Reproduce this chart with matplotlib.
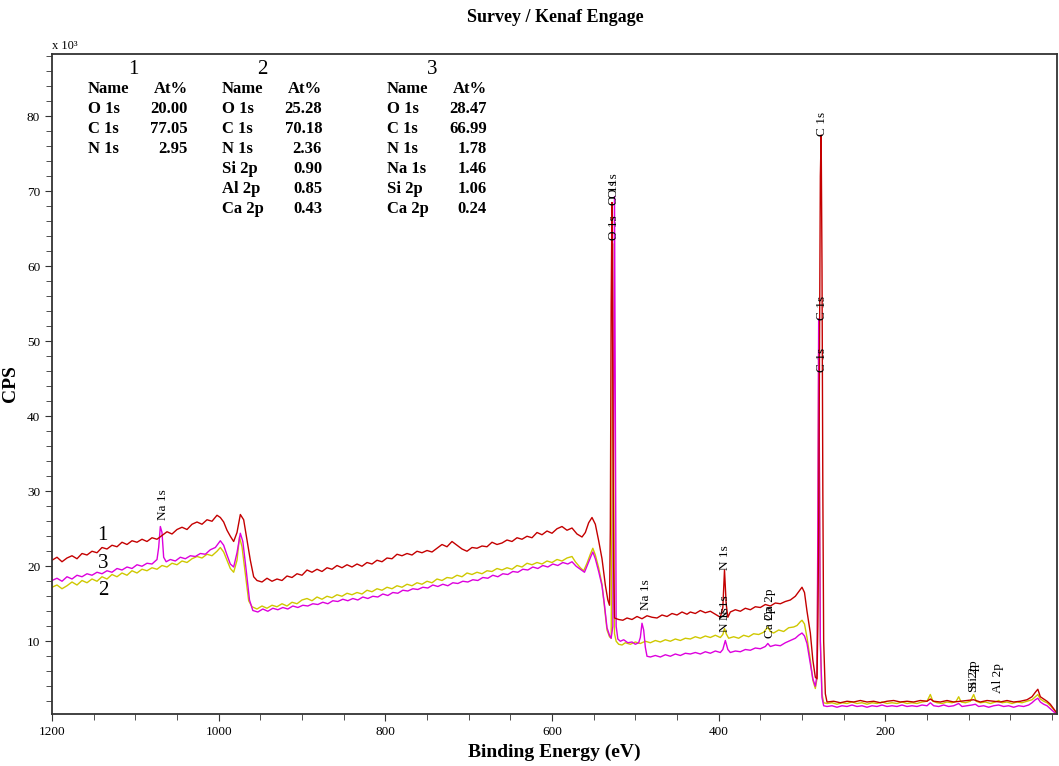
"""
XPS survey spectra of kenaf (Engage), three runs on one figure.

Counts are kept in thousands, the axis carries the x 10^3 note.
"""

import matplotlib
matplotlib.use("Agg")
import matplotlib.pyplot as plt
from matplotlib.ticker import MultipleLocator


# ============================================================
# Data (binding energy in eV, counts in 10^3 CPS)
# ============================================================

be_1 = [1200, 1194, 1188, 1182, 1176, 1170, 1164, 1158, 1152, 1146, 1140, 1134, 1128, 1122,
        1116, 1110, 1104, 1098, 1092, 1086, 1080, 1074, 1068, 1062, 1056, 1050, 1044, 1038,
        1032, 1026, 1020, 1014, 1008, 1002, 998, 994, 990, 986, 982, 978, 974, 970, 966, 962,
        958, 954, 948, 942, 936, 930, 924, 918, 912, 906, 900, 894, 888, 882, 876, 870, 864,
        858, 852, 846, 840, 834, 828, 822, 816, 810, 804, 798, 792, 786, 780, 774, 768, 762,
        756, 750, 744, 738, 732, 726, 720, 714, 708, 702, 696, 690, 684, 678, 672, 666, 660,
        654, 648, 642, 636, 630, 624, 618, 612, 606, 600, 594, 588, 582, 576, 570, 564, 560,
        556, 552, 548, 544, 540, 536, 533, 531, 530, 529, 528, 527, 526, 525, 520, 515, 510,
        504, 498, 492, 486, 480, 474, 468, 462, 456, 450, 444, 438, 434, 428, 422, 416, 410,
        404, 398, 395, 393, 391, 389, 386, 380, 374, 368, 362, 356, 350, 344, 338, 332, 326,
        320, 314, 308, 304, 300, 297, 294, 290, 287, 284, 282, 281, 280, 279, 278, 277, 276,
        275, 274, 272, 270, 262, 254, 246, 238, 230, 222, 214, 206, 198, 190, 182, 174, 166,
        158, 150, 146, 142, 134, 126, 118, 110, 102, 94, 86, 78, 70, 62, 54, 46, 38, 30, 24,
        20, 17, 14, 10, 6, 2, -2, -6]
cps_1 = [20.8, 21.2, 20.6, 21.1, 21.4, 21.0, 21.7, 21.5, 22.0, 21.8, 22.5, 22.3, 22.8, 22.6,
         23.2, 22.9, 23.4, 23.2, 23.6, 23.3, 23.8, 23.6, 24.1, 24.6, 24.3, 24.9, 25.2, 24.9,
         25.6, 25.9, 25.6, 26.2, 26.0, 26.8, 26.5, 25.9, 24.8, 24.0, 23.3, 24.5, 26.9, 26.2,
         23.5, 20.8, 18.6, 18.1, 17.9, 18.4, 18.0, 18.3, 18.1, 18.7, 18.5, 19.0, 18.8, 19.5,
         19.2, 19.6, 19.3, 19.8, 19.6, 20.1, 19.8, 20.2, 19.9, 20.3, 20.0, 20.5, 20.3, 20.8,
         20.6, 21.1, 21.0, 21.6, 21.4, 21.7, 21.5, 22.0, 21.8, 22.1, 21.9, 22.4, 22.9, 22.6,
         23.3, 22.8, 22.3, 22.0, 22.5, 22.4, 22.7, 22.6, 23.2, 22.9, 23.1, 23.5, 23.3, 23.8,
         23.6, 24.0, 23.8, 24.5, 24.2, 24.7, 24.4, 25.0, 25.3, 24.8, 25.1, 24.3, 23.9, 24.5,
         25.8, 26.5, 25.6, 23.4, 21.0, 17.5, 15.5, 14.8, 25.0, 55.0, 68.5, 45.0, 20.0, 13.1,
         12.9, 12.8, 13.1, 12.9, 13.3, 13.0, 13.4, 13.2, 13.1, 13.5, 13.3, 13.7, 13.5, 13.9,
         13.6, 13.9, 13.7, 14.1, 13.8, 14.0, 13.6, 13.2, 14.5, 19.5, 15.0, 13.2, 13.9, 14.2,
         14.0, 14.4, 14.2, 14.6, 14.5, 14.9, 14.7, 15.1, 15.0, 15.3, 15.5, 16.0, 16.6, 17.2,
         16.5, 14.0, 11.1, 7.5, 5.2, 5.0, 12.0, 25.0, 50.0, 72.0, 77.5, 60.0, 30.0, 10.0, 3.0,
         1.9, 2.0, 1.8, 2.0, 1.9, 2.1, 1.9, 2.0, 1.8, 2.0, 2.1, 1.9, 2.0, 1.9, 2.1, 2.0, 2.3,
         2.0, 1.9, 2.1, 1.9, 2.0, 2.1, 2.2, 1.9, 2.1, 2.0, 1.9, 2.1, 1.9, 2.0, 2.2, 2.6, 3.2,
         3.6, 2.6, 2.3, 2.0, 1.6, 1.0, 0.4]

be_2 = [1200, 1194, 1188, 1182, 1176, 1170, 1164, 1158, 1152, 1146, 1140, 1134, 1128, 1122,
        1116, 1110, 1104, 1098, 1092, 1086, 1080, 1074, 1068, 1062, 1056, 1050, 1044, 1038,
        1032, 1026, 1020, 1014, 1008, 1002, 998, 994, 990, 986, 982, 978, 975, 972, 968, 964,
        960, 954, 948, 942, 936, 930, 924, 918, 912, 906, 900, 894, 888, 882, 876, 870, 864,
        858, 852, 846, 840, 834, 828, 822, 816, 810, 804, 798, 792, 786, 780, 774, 768, 762,
        756, 750, 744, 738, 732, 726, 720, 714, 708, 702, 696, 690, 684, 678, 672, 666, 660,
        654, 648, 642, 636, 630, 624, 618, 612, 606, 600, 594, 588, 582, 576, 572, 566, 562,
        558, 554, 551, 548, 544, 540, 537, 534, 531, 529, 528, 527, 526, 525, 523, 520, 516,
        512, 506, 500, 494, 488, 482, 476, 470, 464, 458, 452, 446, 440, 434, 428, 422, 416,
        410, 404, 398, 395, 393, 391, 388, 382, 376, 370, 364, 358, 352, 346, 341, 338, 334,
        328, 322, 316, 310, 306, 302, 300, 297, 294, 290, 287, 284, 282, 281, 280, 279, 278,
        276, 274, 270, 264, 258, 252, 246, 240, 234, 228, 222, 216, 210, 204, 198, 192, 186,
        180, 174, 168, 162, 156, 150, 146, 143, 138, 132, 126, 120, 115, 112, 109, 104, 98,
        94, 91, 86, 80, 74, 68, 64, 60, 54, 48, 42, 36, 30, 24, 20, 17, 14, 10, 6, 2, -2, -6]
cps_2 = [17.2, 17.5, 17.0, 17.4, 17.9, 17.5, 18.1, 17.8, 18.3, 18.0, 18.6, 18.3, 18.9, 18.6,
         19.1, 18.8, 19.4, 19.1, 19.6, 19.4, 19.8, 19.6, 20.1, 19.9, 20.4, 20.2, 20.7, 20.5,
         21.0, 21.3, 21.1, 21.6, 21.4, 22.0, 22.5, 21.9, 20.8, 19.7, 19.2, 20.8, 23.9, 22.6,
         19.0, 15.4, 14.6, 14.3, 14.7, 14.4, 14.8, 14.6, 15.0, 14.7, 15.2, 15.0, 15.5, 15.7,
         15.4, 15.9, 15.6, 16.0, 15.8, 16.2, 16.0, 16.4, 16.2, 16.5, 16.3, 16.8, 16.6, 17.0,
         16.8, 17.2, 17.0, 17.4, 17.2, 17.6, 17.4, 17.8, 17.6, 18.0, 17.8, 18.3, 18.1, 18.5,
         18.4, 18.8, 18.6, 19.1, 18.9, 19.2, 19.0, 19.4, 19.3, 19.7, 19.5, 19.8, 19.6, 20.1,
         19.9, 20.4, 20.2, 20.5, 20.3, 20.7, 20.5, 20.9, 20.7, 21.1, 21.3, 20.6, 19.8, 19.4,
         20.4, 21.6, 22.4, 21.5, 19.8, 17.6, 14.5, 11.5, 10.6, 10.4, 30.0, 63.0, 35.0, 11.0,
         10.0, 9.6, 9.5, 9.8, 9.6, 9.9, 9.7, 10.0, 9.8, 10.1, 9.9, 10.2, 10.0, 10.3, 10.1,
         10.4, 10.3, 10.6, 10.4, 10.7, 10.5, 10.8, 10.5, 10.9, 11.7, 11.0, 10.4, 10.6, 10.4,
         10.8, 10.6, 11.0, 10.9, 11.2, 11.9, 11.3, 11.1, 11.5, 11.3, 11.8, 11.9, 12.1, 12.6,
         12.8, 12.3, 10.5, 7.5, 4.8, 3.7, 5.0, 20.0, 47.5, 30.0, 10.0, 3.0, 1.8, 1.7, 1.8,
         1.6, 1.8, 1.7, 1.9, 1.7, 1.8, 1.6, 1.8, 1.7, 1.9, 1.7, 1.8, 1.7, 1.9, 1.7, 1.8, 1.7,
         1.9, 2.0, 2.9, 2.0, 1.8, 1.7, 1.9, 1.8, 2.0, 2.6, 1.9, 1.8, 2.0, 2.9, 2.0, 1.8, 1.9,
         1.7, 1.9, 2.1, 1.8, 1.9, 1.7, 1.9, 1.8, 2.0, 2.2, 2.6, 2.9, 2.3, 2.0, 1.8, 1.4, 0.9,
         0.4]

be_3 = [1200, 1194, 1188, 1182, 1176, 1170, 1164, 1158, 1152, 1146, 1140, 1134, 1128, 1122,
        1116, 1110, 1104, 1098, 1092, 1086, 1080, 1076, 1074, 1072, 1070, 1068, 1066, 1063,
        1058, 1052, 1046, 1040, 1034, 1028, 1022, 1016, 1010, 1004, 998, 994, 990, 986, 982,
        978, 974, 971, 967, 963, 959, 953, 947, 941, 935, 929, 923, 917, 911, 905, 899, 893,
        887, 881, 875, 869, 863, 857, 851, 845, 839, 833, 827, 821, 815, 809, 803, 797, 791,
        785, 779, 773, 767, 761, 755, 749, 743, 737, 731, 725, 719, 713, 707, 701, 695, 689,
        683, 677, 671, 665, 659, 653, 647, 641, 635, 629, 623, 617, 611, 605, 599, 593, 587,
        581, 576, 571, 566, 561, 557, 553, 551, 548, 544, 540, 537, 534, 531, 529, 527, 526,
        525, 524, 523, 521, 518, 514, 509, 504, 500, 496, 494, 492, 490, 488, 486, 482, 476,
        470, 464, 458, 452, 446, 440, 434, 428, 422, 416, 410, 404, 398, 395, 392, 389, 386,
        380, 374, 368, 362, 356, 350, 344, 341, 338, 332, 326, 320, 314, 308, 304, 300, 297,
        294, 290, 287, 284, 282, 281, 280, 279, 278, 276, 274, 270, 264, 258, 252, 246, 240,
        234, 228, 222, 216, 210, 204, 198, 192, 186, 180, 174, 168, 162, 156, 150, 146, 142,
        136, 130, 124, 118, 112, 108, 102, 96, 92, 88, 82, 76, 70, 64, 58, 52, 46, 40, 34, 28,
        24, 20, 17, 14, 10, 6, 2, -2, -6]
cps_3 = [18.1, 18.4, 18.0, 18.6, 18.3, 18.8, 18.6, 19.0, 18.8, 19.2, 19.0, 19.4, 19.2, 19.7,
         19.5, 19.9, 19.7, 20.2, 20.0, 20.4, 20.3, 20.7, 20.9, 22.5, 25.3, 24.5, 21.2, 20.6,
         20.9, 20.7, 21.2, 21.0, 21.4, 21.3, 21.7, 21.6, 22.2, 22.5, 23.4, 22.8, 21.5, 20.3,
         19.9, 21.8, 24.4, 23.3, 19.5, 15.5, 14.1, 13.9, 14.3, 14.0, 14.4, 14.2, 14.5, 14.3,
         14.7, 14.5, 14.8, 14.7, 15.0, 14.9, 15.2, 15.0, 15.4, 15.3, 15.6, 15.4, 15.7, 15.5,
         15.9, 15.7, 16.0, 15.9, 16.3, 16.1, 16.5, 16.4, 16.8, 16.7, 17.0, 16.9, 17.2, 17.1,
         17.5, 17.3, 17.6, 17.4, 17.8, 17.7, 18.0, 17.9, 18.2, 18.1, 18.5, 18.4, 18.8, 18.6,
         19.0, 18.9, 19.3, 19.2, 19.6, 19.5, 19.9, 19.7, 20.1, 19.9, 20.3, 20.1, 20.5, 20.3,
         20.6, 20.0, 19.6, 19.2, 20.3, 21.4, 21.9, 21.0, 19.3, 17.4, 14.8, 11.8, 10.8, 10.4,
         12.0, 40.0, 69.3, 42.0, 12.0, 10.3, 10.0, 10.2, 9.8, 9.9, 9.6, 9.8, 10.5, 12.4, 11.5,
         9.2, 8.0, 7.9, 8.1, 7.9, 8.2, 8.0, 8.3, 8.1, 8.4, 8.3, 8.5, 8.3, 8.6, 8.4, 8.7, 8.5,
         8.9, 10.1, 8.9, 8.5, 8.7, 8.6, 8.9, 8.8, 9.1, 9.0, 9.3, 9.7, 9.3, 9.5, 9.4, 9.8, 10.1,
         10.4, 10.8, 11.1, 10.7, 9.7, 7.0, 5.0, 4.0, 5.5, 25.0, 53.0, 32.0, 10.0, 2.5, 1.4,
         1.3, 1.4, 1.2, 1.4, 1.3, 1.5, 1.3, 1.4, 1.2, 1.4, 1.3, 1.5, 1.3, 1.4, 1.3, 1.5, 1.3,
         1.4, 1.3, 1.5, 1.4, 1.8, 1.4, 1.3, 1.5, 1.3, 1.4, 1.7, 1.3, 1.4, 1.5, 1.6, 1.3, 1.4,
         1.2, 1.4, 1.5, 1.3, 1.4, 1.2, 1.4, 1.3, 1.5, 1.8, 2.2, 2.4, 1.9, 1.6, 1.4, 1.0, 0.6,
         0.3]

# peak labels: text, binding energy, height of label foot
peak_names = ["C 1s", "C 1s", "C 1s", "O 1s", "O 1s", "O 1s", "Na 1s", "Na 1s",
              "N 1s", "N 1s", "N 1s", "Ca 2p", "Ca 2p", "Si 2p", "Si 2p", "Al 2p"]
peak_be = [276, 276, 276, 526, 526, 526, 1067, 487,
           392, 393, 393, 338, 338, 93, 93, 65]
peak_foot = [77.3, 52.8, 45.9, 68.2, 69.1, 63.5, 26.1, 14.1,
             19.5, 11.2, 12.8, 10.5, 12.9, 3.2, 3.8, 3.1]

# quantification tables
table_titles = ["1", "2", "3"]
table_names = [["O 1s", "C 1s", "N 1s"],
               ["O 1s", "C 1s", "N 1s", "Si 2p", "Al 2p", "Ca 2p"],
               ["O 1s", "C 1s", "N 1s", "Na 1s", "Si 2p", "Ca 2p"]]
table_at = [["20.00", "77.05", "2.95"],
            ["25.28", "70.18", "2.36", "0.90", "0.85", "0.43"],
            ["28.47", "66.99", "1.78", "1.46", "1.06", "0.24"]]

curve_tags = ["1", "2", "3"]
tag_be = 1139
tag_cps = [24.1, 16.8, 20.4]

x_ticks = [1200, 1000, 800, 600, 400, 200]
y_ticks = [10, 20, 30, 40, 50, 60, 70, 80]


# ============================================================
# Main plotting routine
# ============================================================

def run_plot():

    plt.rcParams["font.family"] = ["Liberation Serif", "DejaVu Serif"]

    W, H = 1059, 766
    fig = plt.figure(figsize=(W / 100, H / 100), dpi=100)
    ax = fig.add_axes([52 / W, 1 - 714 / H, 1005 / W, 660 / H])

    colors = ["#C40000", "#CFC800", "#DD00DD"]

    ax.plot(be_2, cps_2, color=colors[1], linewidth=1.0)
    ax.plot(be_3, cps_3, color=colors[2], linewidth=1.0)
    ax.plot(be_1, cps_1, color=colors[0], linewidth=1.0)

    ax.set_xlim(1200, -6)
    ax.set_ylim(0.3, 88.3)

    ax.set_xticks(x_ticks)
    ax.xaxis.set_minor_locator(MultipleLocator(50))
    ax.set_yticks(y_ticks)
    ax.yaxis.set_minor_locator(MultipleLocator(2))

    ax.tick_params(which="both", direction="out", labelsize=9.5, colors="#333333",
                   labelcolor="black")
    ax.tick_params(which="major", length=5)
    ax.tick_params(which="minor", length=4)

    for s in ax.spines.values():
        s.set_color("#333333")
        s.set_linewidth(1.3)

    ax.set_xlabel("Binding Energy (eV)", fontsize=14, fontweight="bold", labelpad=4)
    ax.set_ylabel("CPS", fontsize=14, fontweight="bold")
    ax.yaxis.set_label_coords(-0.033, 0.5)
    fig.text(555 / W, 1 - 17 / H, "Survey / Kenaf Engage", ha="center", va="center",
             fontsize=13, fontweight="bold")
    fig.text(52 / W, 1 - 46 / H, "x 10\u00b3", ha="left", va="center", fontsize=9)

    # peak labels sit on the spectra
    for name, be, foot in zip(peak_names, peak_be, peak_foot):
        ax.text(be, foot, name, rotation=90, ha="center", va="bottom", fontsize=9.5)

    # run numbers next to the curves
    for tag, y in zip(curve_tags, tag_cps):
        ax.text(tag_be, y, tag, ha="center", va="center", fontsize=15)

    # quantification tables
    name_x = [88, 222, 387]
    val_x = [188, 322, 487]
    title_x = [133, 262, 432]
    for k in range(3):
        fig.text(title_x[k] / W, 1 - 70 / H, table_titles[k], ha="center", va="center",
                 fontsize=15)
        fig.text(name_x[k] / W, 1 - 89 / H, "Name", ha="left", va="center",
                 fontsize=12, fontweight="bold")
        fig.text(val_x[k] / W, 1 - 89 / H, "At%", ha="right", va="center",
                 fontsize=12, fontweight="bold")
        for r, (nm, val) in enumerate(zip(table_names[k], table_at[k])):
            y = 1 - (109 + r * 20) / H
            fig.text(name_x[k] / W, y, nm, ha="left", va="center",
                     fontsize=12, fontweight="bold")
            fig.text(val_x[k] / W, y, val, ha="right", va="center",
                     fontsize=12, fontweight="bold")

    fig.savefig("out.png", dpi=100)


if __name__ == "__main__":
    run_plot()
